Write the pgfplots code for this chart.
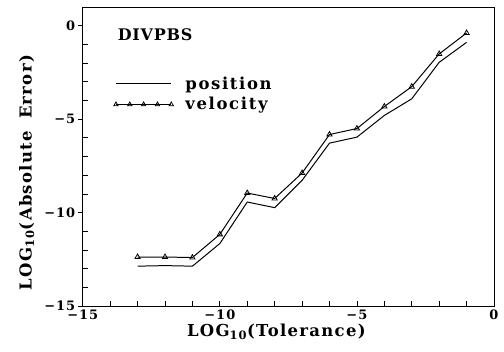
\documentclass[border=0pt]{standalone}
\usepackage{fontspec}
\setmainfont{DejaVu Serif}[LetterSpace=5]
\newfontfamily\labfont{DejaVu Serif}[LetterSpace=8]
\newfontfamily\legfont{DejaVu Serif}[LetterSpace=10]
\newfontfamily\tickfont{DejaVu Serif}[LetterSpace=8]
\usepackage{pgfplots}
\pgfplotsset{compat=1.18}
\begin{document}
\begin{tikzpicture}
\begin{axis}[
  name=ax,
  scale only axis,
  width=411bp, height=299bp,
  xmin=-15, xmax=0, ymin=-15, ymax=1,
  axis line style={line width=1pt},
  tick style={line width=0.8pt, black},
  tick align=inside,
  major tick length=5bp, minor tick length=5bp,
  xtick={-15,-10,-5,0},
  xticklabels={−15,−10,−5,0},
  minor x tick num=4,
  xtick pos=bottom,
  ytick={-14,-13,-12,-11,-9,-8,-7,-6,-4,-3,-2,-1},
  yticklabels={},
  ytick pos=left,
  extra y ticks={-15,-10,-5,0},
  extra y tick labels={−15,−10,−5,0},
  extra y tick style={tick align=outside},
  ticklabel style={font=\tickfont\fontsize{13}{14}\selectfont\bfseries},
  xticklabel style={yshift=0bp},
  yticklabel style={xshift=1bp},
  label style={font=\labfont\fontsize{16.5}{18}\selectfont\bfseries},
  xlabel={LOG\textsubscript{10}(Tolerance)},
  ylabel={LOG\textsubscript{10}(Absolute\hspace{12bp}Error)},
  xlabel style={yshift=2bp, xshift=-12bp},
  ylabel style={yshift=3bp, xshift=-16bp},
  legend style={draw=none, fill=none, at={(0.075,0.775)}, anchor=north west,
    font=\legfont\fontsize{16.5}{17}\selectfont\bfseries, row sep=3bp,
    inner sep=0pt, nodes={inner xsep=12bp}},
  legend cell align=left,
]
\addplot[black, line width=1pt, no marks,
  legend image code/.code={\draw[black,line width=1pt] (0cm,0cm) -- (1.95cm,0cm);}]
  coordinates {(-13,-12.86) (-12,-12.83) (-11,-12.86) (-10,-11.65) (-9,-9.43) (-8,-9.73) (-7,-8.27) (-6,-6.28) (-5,-5.96) (-4,-4.80) (-3,-3.91) (-2,-1.96) (-1,-0.89)};
\addlegendentry{position}
\addplot[black, line width=1pt, mark=triangle, mark size=3bp, mark options={fill=white, line width=0.8pt},
  legend image code/.code={\draw[black,line width=1pt] (0cm,0cm) -- (1.95cm,0cm);
    \draw[black,line width=0.8pt,mark=triangle,mark size=2.5bp,mark options={fill=white},only marks] plot coordinates {(0cm,0cm) (0.4875cm,0cm) (0.975cm,0cm) (1.4625cm,0cm) (1.95cm,0cm)};}]
  coordinates {(-13,-12.37) (-12,-12.37) (-11,-12.40) (-10,-11.16) (-9,-8.95) (-8,-9.24) (-7,-7.88) (-6,-5.82) (-5,-5.50) (-4,-4.32) (-3,-3.26) (-2,-1.51) (-1,-0.39)};
\addlegendentry{velocity}
\node[anchor=west, font=\fontsize{16}{18}\selectfont\bfseries] at (axis cs:-13.85,-0.5) {DIVPBS};
\end{axis}
\pgfresetboundingbox
\path ([shift={(-82.7bp,-45bp)}]ax.south west) rectangle ([shift={(10bp,7bp)}]ax.north east);
\end{tikzpicture}
\end{document}
